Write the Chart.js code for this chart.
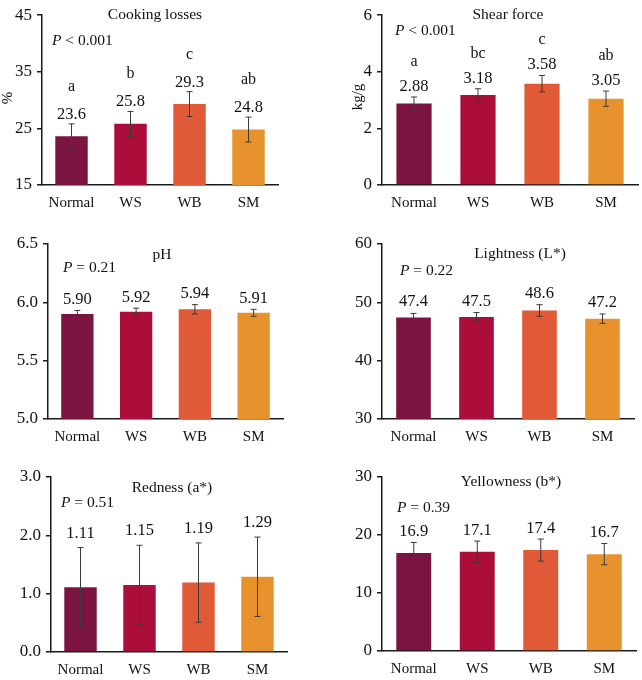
<!DOCTYPE html>
<html><head><meta charset="utf-8">
<script src="https://cdn.jsdelivr.net/npm/chart.js@4"></script>
<style>
html,body{margin:0;padding:0;background:#fff}
body{width:642px;height:680px;position:relative;overflow:hidden}
canvas{position:absolute}
</style></head><body>
<canvas id="c0" width="321" height="220" style="left:0;top:0"></canvas>
<canvas id="c1" width="321" height="220" style="left:321px;top:0"></canvas>
<canvas id="c2" width="321" height="230" style="left:0;top:220px"></canvas>
<canvas id="c3" width="321" height="230" style="left:321px;top:220px"></canvas>
<canvas id="c4" width="321" height="230" style="left:0;top:450px"></canvas>
<canvas id="c5" width="321" height="230" style="left:321px;top:450px"></canvas>
<script>
// ---------- data ----------
const categories = ['Normal', 'WS', 'WB', 'SM'];
const barColors = ['#7C1441', '#AB0E3A', '#E05A38', '#E8922E'];

const cookingMean = [23.6, 25.8, 29.3, 24.8];
const cookingSd = [2.2, 2.2, 2.2, 2.2];
const cookingLetters = ['a', 'b', 'c', 'ab'];
const cookingTicks = [15, 45, 10];

const shearMean = [2.88, 3.18, 3.58, 3.05];
const shearSd = [0.23, 0.22, 0.29, 0.27];
const shearLetters = ['a', 'bc', 'c', 'ab'];
const shearTicks = [0, 6, 2];

const phMean = [5.90, 5.92, 5.94, 5.91];
const phSd = [0.03, 0.03, 0.04, 0.03];
const phTicks = [5.0, 6.5, 0.5];

const lightMean = [47.4, 47.5, 48.6, 47.2];
const lightSd = [0.7, 0.75, 1.0, 0.8];
const lightTicks = [30, 60, 10];

const redMean = [1.11, 1.15, 1.19, 1.29];
const redSd = [0.68, 0.68, 0.68, 0.68];
const redTicks = [0, 3, 1];

const yellowMean = [16.9, 17.1, 17.4, 16.7];
const yellowSd = [1.8, 1.85, 1.9, 1.83];
const yellowTicks = [0, 30, 10];

const titles = ['Cooking losses', 'Shear force', 'pH', 'Lightness (L*)', 'Redness (a*)', 'Yellowness (b*)'];
const pTexts = [' < 0.001', ' < 0.001', ' = 0.21', ' = 0.22', ' = 0.51', ' = 0.39'];
const yTitles = ['%', 'kg/g', '', '', '', ''];

// ---------- layout (page coordinates) ----------
const FONT = '"Liberation Serif", "Times New Roman", serif';
const panels = [
  {mean: cookingMean, sd: cookingSd, letters: cookingLetters, ticks: cookingTicks, vDec: 1, tDec: 0,
   canvas: [0, 0, 321, 220], area: [42, 278, 10, 185], title: [155, 19], p: [52, 45], yt: [8, 98], vGap: 5, lGap: 28},
  {mean: shearMean, sd: shearSd, letters: shearLetters, ticks: shearTicks, vDec: 2, tDec: 0,
   canvas: [321, 0, 321, 220], area: [382, 638, 10, 185], title: [508, 19], p: [395, 35], yt: [358, 97], vGap: 6, lGap: 25},
  {mean: phMean, sd: phSd, letters: null, ticks: phTicks, vDec: 2, tDec: 1,
   canvas: [0, 220, 321, 230], area: [48, 283, 244, 419], title: [162, 259], p: [63, 272], vGap: 6.5},
  {mean: lightMean, sd: lightSd, letters: null, ticks: lightTicks, vDec: 1, tDec: 0,
   canvas: [321, 220, 321, 230], area: [382, 634, 244, 419], title: [520, 258], p: [400, 275], vGap: 7},
  {mean: redMean, sd: redSd, letters: null, ticks: redTicks, vDec: 2, tDec: 1,
   canvas: [0, 450, 321, 230], area: [51, 287, 477, 652], title: [172, 492], p: [61, 507], vGap: 10},
  {mean: yellowMean, sd: yellowSd, letters: null, ticks: yellowTicks, vDec: 1, tDec: 0,
   canvas: [321, 450, 321, 230], area: [382, 636, 477, 651], title: [511, 486], p: [397, 512], vGap: 6.5}
];

const annot = {
  id: 'annot',
  afterDatasetsDraw(chart) {
    const pi = chart.options.plugins.annot.idx;
    const P = panels[pi];
    const [cx, cy] = P.canvas;
    const ctx = chart.ctx;
    const ys = chart.scales.y;
    const meta = chart.getDatasetMeta(0);
    ctx.save();
    // error bars + value labels + letters
    meta.data.forEach((bar, i) => {
      const m = P.mean[i], s = P.sd[i];
      const yt = ys.getPixelForValue(m + s), yb = ys.getPixelForValue(m - s);
      ctx.strokeStyle = '#3a3a3a';
      ctx.lineWidth = 1;
      ctx.beginPath();
      ctx.moveTo(bar.x, yt); ctx.lineTo(bar.x, yb);
      ctx.moveTo(bar.x - 3, yt); ctx.lineTo(bar.x + 3, yt);
      ctx.moveTo(bar.x - 3, yb); ctx.lineTo(bar.x + 3, yb);
      ctx.stroke();
      ctx.fillStyle = '#111';
      ctx.textAlign = 'center';
      ctx.textBaseline = 'alphabetic';
      ctx.font = '16.5px ' + FONT;
      const vb = yt - P.vGap;
      ctx.fillText(m.toFixed(P.vDec), bar.x, vb);
      if (P.letters) {
        ctx.font = '16px ' + FONT;
        ctx.fillText(P.letters[i], bar.x, vb - P.lGap);
      }
    });
    // title
    ctx.fillStyle = '#111';
    ctx.textAlign = 'center';
    ctx.font = '15.5px ' + FONT;
    ctx.fillText(titles[pi], P.title[0] - cx, P.title[1] - cy);
    // P value
    ctx.textAlign = 'left';
    ctx.font = 'italic 15.5px ' + FONT;
    const px = P.p[0] - cx, py = P.p[1] - cy;
    ctx.fillText('P', px, py);
    const w = ctx.measureText('P').width;
    ctx.font = '15.5px ' + FONT;
    ctx.fillText(pTexts[pi], px + w, py);
    // y title
    if (yTitles[pi]) {
      ctx.translate(P.yt[0] - cx, P.yt[1] - cy);
      ctx.rotate(-Math.PI / 2);
      ctx.textAlign = 'center';
      ctx.textBaseline = 'middle';
      ctx.font = '15px ' + FONT;
      ctx.fillText(yTitles[pi], 0, 0);
    }
    ctx.restore();
  }
};

panels.forEach((P, pi) => {
  const [cx, cy, cw, ch] = P.canvas;
  const [L, R, T, B] = P.area;
  new Chart(document.getElementById('c' + pi), {
    type: 'bar',
    data: {
      labels: categories,
      datasets: [{data: P.mean, backgroundColor: barColors, borderWidth: 0,
                  barPercentage: 0.55, categoryPercentage: 1}]
    },
    options: {
      responsive: false,
      animation: false,
      layout: {padding: {left: 0, right: cx + cw - R, top: T - cy, bottom: 0}},
      plugins: {legend: {display: false}, tooltip: {enabled: false}, annot: {idx: pi}},
      scales: {
        x: {
          grid: {display: false, drawTicks: false},
          border: {display: true, color: '#1a1a1a', width: 1.5},
          ticks: {color: '#111', font: {family: FONT, size: 15}, padding: 9},
          afterFit: s => { s.height = cy + ch - B; }
        },
        y: {
          min: P.ticks[0], max: P.ticks[1],
          grid: {display: true, drawOnChartArea: false, drawTicks: true, tickLength: 5, color: '#1a1a1a', lineWidth: 1.5},
          border: {display: true, color: '#1a1a1a', width: 1.5},
          ticks: {stepSize: P.ticks[2], color: '#111', font: {family: FONT, size: 17}, padding: 5,
                  callback: v => Number(v).toFixed(P.tDec)},
          afterFit: s => { s.width = L - cx; }
        }
      }
    },
    plugins: [annot]
  });
});
</script>
</body></html>
